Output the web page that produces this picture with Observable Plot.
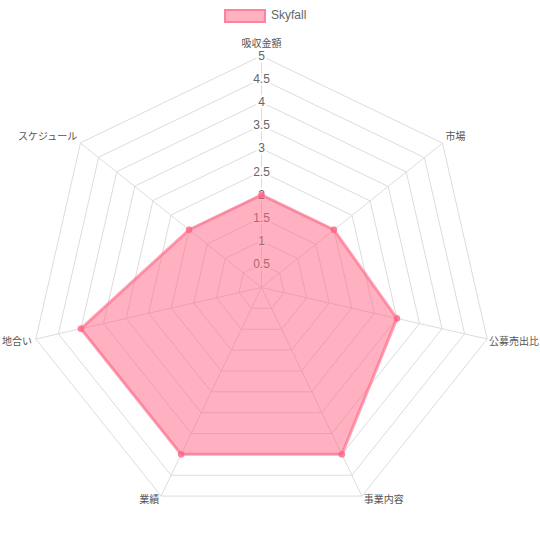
<!DOCTYPE html>
<html>
<head>
<meta charset="utf-8">
<script src="https://cdn.jsdelivr.net/npm/d3@7"></script>
<script src="https://cdn.jsdelivr.net/npm/@observablehq/plot@0.6"></script>
<style>
  html, body { margin: 0; padding: 0; background: #fff; }
  body { width: 540px; height: 540px; overflow: hidden; font-family: "Helvetica Neue", Helvetica, Arial, "Liberation Sans", "Noto Sans CJK JP", sans-serif; }
  #legend { height: 30px; position: relative; }
  #legend .box { position: absolute; left: 224px; top: 9px; width: 38px; height: 10px; background: rgba(255,99,132,0.5); border: 2px solid rgba(255,99,132,0.6); }
  #legend .lbl { position: absolute; left: 271px; top: 8px; font-size: 12px; line-height: 14px; color: #666; }
</style>
</head>
<body>
<div id="legend"><div class="box"></div><div class="lbl"></div></div>
<div id="chart"></div>
<script>
const seriesName = "Skyfall";
const axisLabels = ["吸収金額", "市場", "公募売出比", "事業内容", "業績", "地合い", "スケジュール"];
const values = [2, 2, 3, 4, 4, 4, 2];
const ticks = [0.5, 1, 1.5, 2, 2.5, 3, 3.5, 4, 4.5, 5];
const maxValue = 5;

document.querySelector("#legend .lbl").textContent = seriesName;

const n = axisLabels.length;
const ang = i => 2 * Math.PI * i / n;
const px = (v, i) => v * Math.sin(ang(i));
const py = (v, i) => v * Math.cos(ang(i));

const cx = 261, cy = 257, R = 231.5;
const unit = R / maxValue;

// grid rings
const rings = [];
for (const t of ticks) for (let i = 0; i < n; i++) rings.push({t, x: px(t, i), y: py(t, i)});
// spokes
const spokes = axisLabels.map((l, i) => ({x2: px(maxValue, i), y2: py(maxValue, i)}));
// series
const pts = values.map((v, i) => ({label: axisLabels[i], x: px(v, i), y: py(v, i)}));
// point labels
const lr = maxValue + 4 / unit;
const lab = axisLabels.map((l, i) => ({label: l, i, x: px(lr, i), y: py(lr, i)}));

const font = '"Helvetica Neue", Helvetica, Arial, "Liberation Sans", "Noto Sans CJK JP", sans-serif';
const gridColor = "#dcdcdc";
const labStyle = {x: "x", y: "y", text: "label", fontSize: 10, fill: "#555"};

const chart = Plot.plot({
  width: 540,
  height: 510,
  margin: 0,
  style: {fontFamily: font, background: "#fff", overflow: "visible"},
  x: {domain: [-maxValue, maxValue], range: [cx - R, cx + R], axis: null},
  y: {domain: [-maxValue, maxValue], range: [cy + R, cy - R], axis: null},
  marks: [
    Plot.line(rings, {x: "x", y: "y", z: "t", curve: "linear-closed", stroke: gridColor, strokeWidth: 1}),
    Plot.link(spokes, {x1: 0, y1: 0, x2: "x2", y2: "y2", stroke: gridColor, strokeWidth: 1}),
    Plot.text(ticks, {x: 0, y: d => d, text: d => String(d), fontSize: 12, fill: "#666", stroke: "white", strokeWidth: 5, strokeOpacity: 0.85}),
    Plot.line(pts, {x: "x", y: "y", curve: "linear-closed", fill: "rgba(255,99,132,0.5)", stroke: "rgba(255,99,132,0.6)", strokeWidth: 3, strokeLinejoin: "miter"}),
    Plot.dot(pts, {x: "x", y: "y", r: 3, fill: "rgba(255,99,132,0.75)", stroke: "rgba(255,99,132,0.6)", strokeWidth: 1}),
    // point labels: top
    Plot.text(lab.filter(d => d.i === 0), {...labStyle, textAnchor: "middle", lineAnchor: "bottom", dy: -5}),
    // upper right / upper left
    Plot.text(lab.filter(d => d.i > 0 && d.i < n / 2 && Math.cos(ang(d.i)) > 0), {...labStyle, textAnchor: "start", lineAnchor: "bottom", dy: -1}),
    Plot.text(lab.filter(d => d.i > n / 2 && Math.cos(ang(d.i)) > 0), {...labStyle, textAnchor: "end", lineAnchor: "bottom", dy: -1}),
    // near-horizontal lower
    Plot.text(lab.filter(d => d.i < n / 2 && Math.cos(ang(d.i)) <= 0 && Math.cos(ang(d.i)) > -0.5), {...labStyle, textAnchor: "start", lineAnchor: "top", dy: -2, dx: -2}),
    Plot.text(lab.filter(d => d.i > n / 2 && Math.cos(ang(d.i)) <= 0 && Math.cos(ang(d.i)) > -0.5), {...labStyle, textAnchor: "end", lineAnchor: "top", dy: -2}),
    // bottom
    Plot.text(lab.filter(d => d.i < n / 2 && Math.cos(ang(d.i)) <= -0.5), {...labStyle, textAnchor: "start", lineAnchor: "middle", dy: 0}),
    Plot.text(lab.filter(d => d.i > n / 2 && Math.cos(ang(d.i)) <= -0.5), {...labStyle, textAnchor: "end", lineAnchor: "middle", dy: 0})
  ]
});
document.getElementById("chart").appendChild(chart);
</script>
</body>
</html>
